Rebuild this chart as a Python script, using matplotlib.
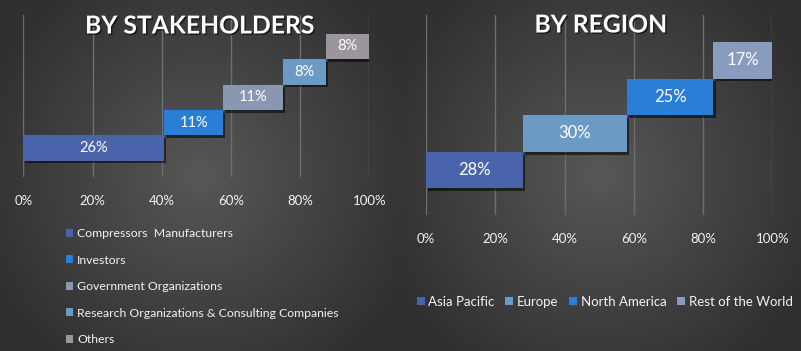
import numpy as np
import matplotlib.pyplot as plt
from matplotlib.patches import Patch
import matplotlib.patheffects as pe

plt.rcParams['font.family'] = ['Lato', 'DejaVu Sans']

# ---- data ----
stake_labels = ["Compressors  Manufacturers", "Investors", "Government Organizations",
                "Research Organizations & Consulting Companies", "Others"]
stake_values = [26, 11, 11, 8, 8]
stake_colors = ["#4a64ab", "#2a7ed6", "#8a97b0", "#6b9ac4", "#9b959e"]

region_labels = ["Asia Pacific", "Europe", "North America", "Rest of the World"]
region_values = [28, 30, 25, 17]
region_colors = ["#4a64ab", "#6b9ac4", "#2a7ed6", "#8a9bc0"]

tick_values = [0, 20, 40, 60, 80, 100]
tick_labels = ["0%", "20%", "40%", "60%", "80%", "100%"]

W, H = 801, 351
fig = plt.figure(figsize=(W / 100, H / 100), dpi=100)

# ---- background: two radial gradients ----
bg = fig.add_axes([0, 0, 1, 1], zorder=-10)
yy, xx = np.mgrid[0:H, 0:W]
img = np.zeros((H, W))
for cx0, cx1 in [(0, 400), (400, 801)]:
    cx = (cx0 + cx1) / 2
    cy = 175
    r = np.sqrt(((xx - cx) / 230.0) ** 2 + ((yy - cy) / 230.0) ** 2)
    mask = (xx >= cx0) & (xx < cx1)
    img[mask] = r[mask]
img = np.clip(img, 0, 1)
c_in = np.array([0x57, 0x57, 0x57]) / 255
c_out = np.array([0x30, 0x30, 0x30]) / 255
rgb = c_in[None, None, :] * (1 - img[..., None]) + c_out[None, None, :] * img[..., None]
bg.imshow(rgb, extent=[0, W, H, 0], aspect='auto', interpolation='bilinear')
bg.set_xlim(0, W)
bg.set_ylim(H, 0)
bg.axis('off')

txt = '#f2f2f2'
grid_c = '#6e6e6e'


def panel(rect_px, values, colors, ylim, label_size):
    x0, y0, x1, y1 = rect_px
    ax = fig.add_axes([x0 / W, 1 - y1 / H, (x1 - x0) / W, (y1 - y0) / H])
    ax.patch.set_alpha(0)
    total = sum(values)
    widths = [v / total * 100 for v in values]
    lefts = np.cumsum([0] + widths[:-1])
    pos = np.arange(len(values))
    bars = ax.barh(pos, widths, left=lefts, height=1.0, color=colors, zorder=3,
                   path_effects=[pe.SimplePatchShadow(offset=(1.5, -2), alpha=0.55, shadow_rgbFace='black'),
                                 pe.Normal()])
    for b, v in zip(bars, values):
        ax.text(b.get_x() + b.get_width() / 2, b.get_y() + b.get_height() / 2, f"{v}%",
                ha='center', va='center', color='white', fontsize=label_size, zorder=4)
    ax.set_xlim(0, 100)
    ax.set_ylim(*ylim)
    ax.set_xticks(tick_values)
    ax.set_xticklabels(tick_labels)
    ax.set_yticks([])
    ax.grid(axis='x', color=grid_c, linewidth=1, zorder=0)
    for s in ax.spines.values():
        s.set_visible(False)
    ax.tick_params(axis='x', length=0, colors=txt, labelsize=9.5, pad=13)
    return ax


ax1 = panel((23.3, 15, 369.3, 177), stake_values, stake_colors, (-1.143, 5.24), 10.5)
ax2 = panel((426, 15, 772.3, 215), region_values, region_colors, (-1.23, 4.24), 12)

title_fx = [pe.withSimplePatchShadow(offset=(1, -1), alpha=0.6, shadow_rgbFace='black')]
fig.text(200 / W, 1 - 26 / H, "BY STAKEHOLDERS", ha='center', va='center', color='white',
         fontsize=17.8, fontweight='bold', path_effects=title_fx)
fig.text(601 / W, 1 - 25 / H, "BY REGION", ha='center', va='center', color='white',
         fontsize=17.8, fontweight='bold', path_effects=title_fx)

# ---- legends ----
h1 = [Patch(facecolor=c, edgecolor='none') for c in stake_colors]
leg1 = fig.legend(h1, stake_labels, loc='upper left', bbox_to_anchor=(60 / W, 1 - 222 / H),
                  frameon=False, fontsize=8.8, labelcolor=txt, handlelength=0.6, handleheight=0.6,
                  handletextpad=0.3, labelspacing=1.27, borderpad=0)

h2 = [Patch(facecolor=c, edgecolor='none') for c in region_colors]
leg2 = fig.legend(h2, region_labels, loc='center left', bbox_to_anchor=(410 / W, 1 - 301.7 / H),
                  frameon=False, fontsize=9.5, labelcolor=txt, handlelength=0.6, handleheight=0.6,
                  handletextpad=0.3, columnspacing=0.8, ncol=4, borderpad=0)

fig.savefig('out.png', dpi=100)
